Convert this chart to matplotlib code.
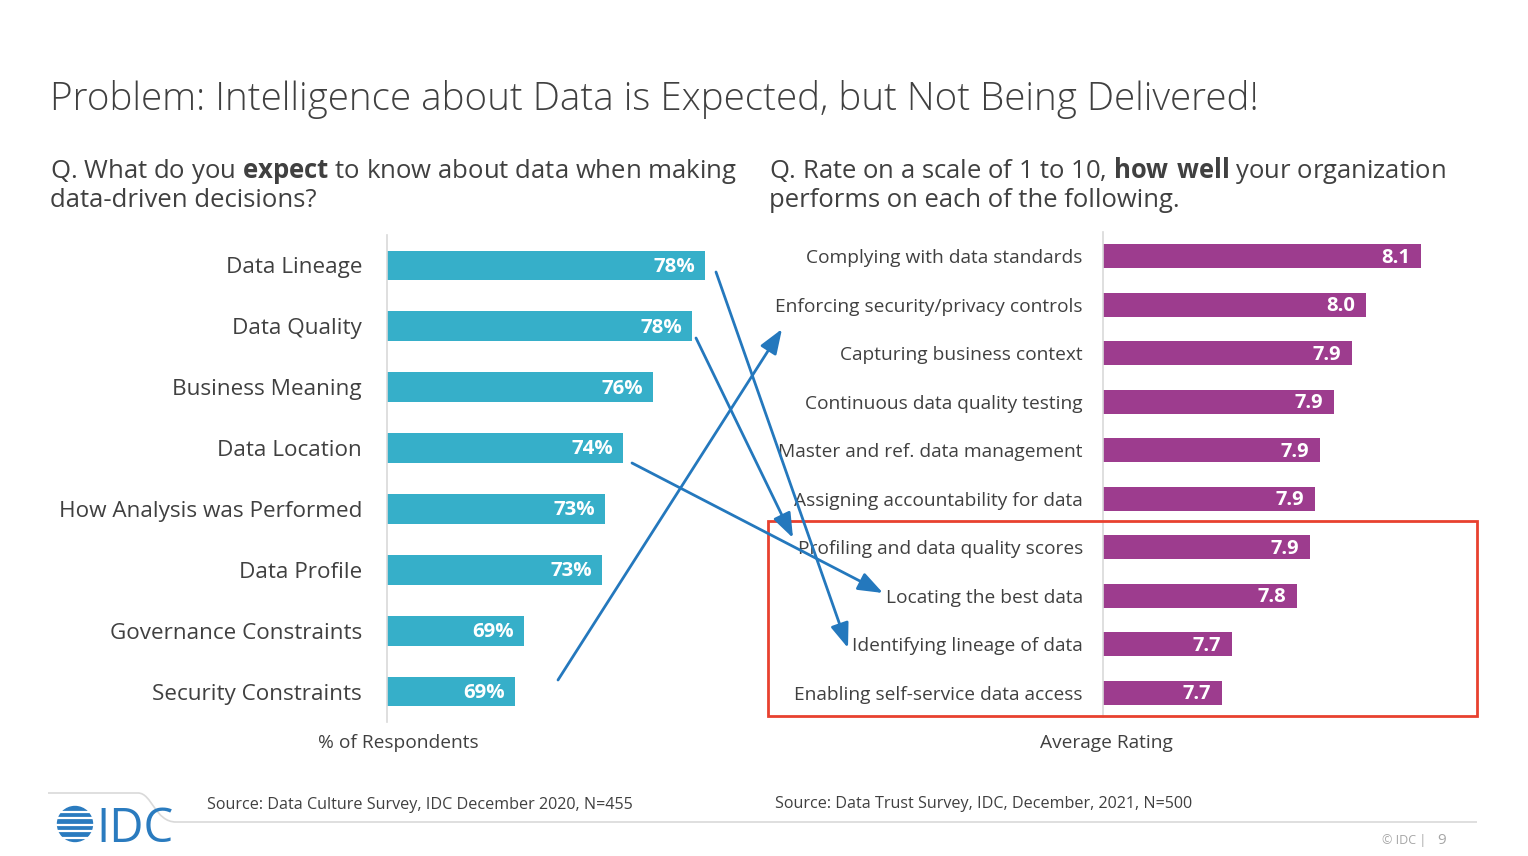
import numpy as np
import matplotlib.pyplot as plt
import matplotlib.patches as mpatches
from matplotlib.path import Path

plt.rcParams['font.family'] = ['Open Sans', 'DejaVu Sans']
plt.rcParams['mathtext.fontset'] = 'custom'
plt.rcParams['mathtext.rm'] = 'Open Sans'
plt.rcParams['mathtext.bf'] = 'Open Sans:bold'

# data (bars don't start at zero, values are unrounded guesses)
expect_items = ["Data Lineage", "Data Quality", "Business Meaning", "Data Location",
                "How Analysis was Performed", "Data Profile", "Governance Constraints",
                "Security Constraints"]
expect_pct = [78.3, 77.65, 75.7, 74.2, 73.3, 73.15, 69.25, 68.8]

rate_items = ["Complying with data standards", "Enforcing security/privacy controls",
              "Capturing business context", "Continuous data quality testing",
              "Master and ref. data management", "Assigning accountability for data",
              "Profiling and data quality scores", "Locating the best data",
              "Identifying lineage of data", "Enabling self-service data access"]
rate_avg = [8.076, 7.966, 7.938, 7.902, 7.874, 7.864, 7.854, 7.828, 7.698, 7.678]

TXT = "#404040"
CYAN = "#36AFC9"
PURPLE = "#9D3C8E"
ARROW = "#2478BD"
RED = "#E8412F"
GREY = "#D9D9D9"

W, H = 1528, 856
fig = plt.figure(figsize=(W / 100, H / 100), dpi=100)

def fax(x0, y0, x1, y1):
    return fig.add_axes([x0 / W, 1 - y1 / H, (x1 - x0) / W, (y1 - y0) / H])

def style(ax, pad, fs):
    for s in ["top", "right", "bottom"]:
        ax.spines[s].set_visible(False)
    ax.spines["left"].set_color(GREY)
    ax.spines["left"].set_linewidth(1.2)
    ax.set_xticks([])
    ax.tick_params(axis="y", length=0, pad=pad, labelsize=fs, labelcolor=TXT)
    ax.invert_yaxis()

# left chart
ax1 = fax(387, 235, 740, 722)
y1 = np.arange(len(expect_items))
ax1.barh(y1, expect_pct, height=0.49, color=CYAN, left=0)
ax1.set_xlim(62.4, 80.05)
ax1.set_ylim(-0.5, len(expect_items) - 0.5)
ax1.set_yticks(y1)
ax1.set_yticklabels(expect_items)
style(ax1, 18, 16.2)
for i, v in enumerate(expect_pct):
    ax1.annotate(f"{v:.0f}%", xy=(v, i), xytext=(-7, -1), textcoords="offset points",
                 ha="right", va="center", color="white", fontweight="bold", fontsize=14.7)

# right chart
ax2 = fax(1103, 232, 1480, 717)
y2 = np.arange(len(rate_items))
ax2.barh(y2, rate_avg, height=0.5, color=PURPLE)
ax2.set_xlim(7.44, 8.194)
ax2.set_ylim(-0.5, len(rate_items) - 0.5)
ax2.set_yticks(y2)
ax2.set_yticklabels(rate_items)
style(ax2, 14.5, 13.8)
for i, v in enumerate(rate_avg):
    ax2.annotate(f"{v:.1f}", xy=(v, i), xytext=(-8, -1), textcoords="offset points",
                 ha="right", va="center", color="white", fontweight="bold", fontsize=14.5)

# overlay in pixel coords for titles, arrows, box, footer
ov = fig.add_axes([0, 0, 1, 1], zorder=10)
ov.set_xlim(0, W)
ov.set_ylim(H, 0)
ov.axis("off")
ov.patch.set_alpha(0)

ov.text(50, 110, "Problem: Intelligence about Data is Expected, but Not Being Delivered!",
        fontsize=27.7, fontweight="light", color=TXT, va="baseline")

ov.text(50, 178, "Q. What do you $\\mathbf{expect}$ to know about data when making",
        fontsize=18.5, color=TXT, va="baseline")
ov.text(50, 207, "data-driven decisions?", fontsize=18.5, color=TXT, va="baseline")
ov.text(769, 178, "Q. Rate on a scale of 1 to 10, $\\mathbf{how\\ well}$ your organization",
        fontsize=18.45, color=TXT, va="baseline")
ov.text(769, 207, "performs on each of the following.", fontsize=18.45, color=TXT, va="baseline")

ov.text(398, 743, "% of Respondents", fontsize=13.8, color=TXT, ha="center", va="center")
ov.text(1106, 743, "Average Rating", fontsize=13.8, color=TXT, ha="center", va="center")

# red highlight box
ov.add_patch(mpatches.Rectangle((768, 521), 1477 - 768, 716 - 521, fill=False,
                                edgecolor=RED, lw=2))

# arrows linking the two charts
links = [((716, 272), (848, 648)),
         ((696, 338), (793, 538)),
         ((632, 463), (883, 593)),
         ((558, 680), (782, 329))]
for start, tip in links:
    ov.annotate("", xy=tip, xytext=start,
                arrowprops=dict(arrowstyle="-|>,head_length=0.75,head_width=0.28",
                                mutation_scale=20, lw=2, color=ARROW,
                                shrinkA=0, shrinkB=0))

# footer
verts = [(48, 793), (138, 793), (152, 793), (155, 822), (176, 822), (1477, 822)]
codes = [Path.MOVETO, Path.LINETO, Path.CURVE4, Path.CURVE4, Path.CURVE4, Path.LINETO]
ov.add_patch(mpatches.PathPatch(Path(verts, codes), fill=False, edgecolor=GREY, lw=1.2))

ov.text(207, 805, "Source: Data Culture Survey, IDC December 2020, N=455",
        fontsize=11.6, color=TXT, va="center")
ov.text(775, 804, "Source: Data Trust Survey, IDC, December, 2021, N=500",
        fontsize=11.6, color=TXT, va="center")
ov.text(1382, 844, "© IDC |", fontsize=9, color="#A6A6A6", va="baseline")
ov.text(1437, 844, "9", fontsize=11, color="#A6A6A6", va="baseline")

# IDC logo
BLUE = "#2A7BBF"
globe = mpatches.Circle((75, 824), 17.5, color=BLUE)
ov.add_patch(globe)
for yy in [811.5, 818, 824.5, 831, 837.5]:
    ov.plot([55, 95], [yy, yy], color="white", lw=1.6, solid_capstyle="butt")
ov.text(96, 842, "IDC", fontsize=34, color=BLUE, va="baseline")

fig.savefig("out.png", dpi=100)
